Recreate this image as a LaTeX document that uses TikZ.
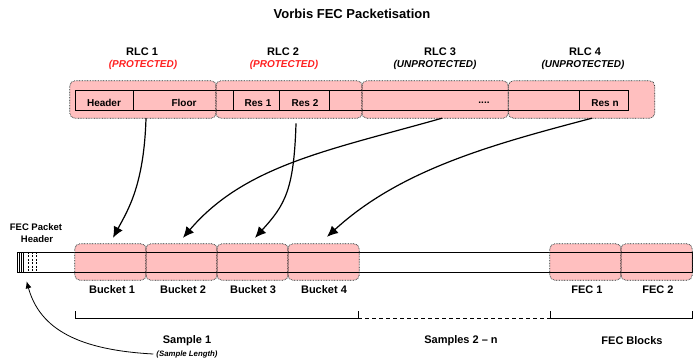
\documentclass[tikz,border=0pt]{standalone}
\usepackage{fontspec}
\setmainfont{Liberation Sans}
\usetikzlibrary{arrows.meta}
\definecolor{bucketpink}{HTML}{FFBFBF}
\definecolor{protred}{HTML}{FF1F1F}
\definecolor{edgegrey}{HTML}{2A2A2A}
\begin{document}
\begin{tikzpicture}[x=1pt,y=-1pt,
  titlefont/.style={font=\bfseries\fontsize{13}{15}\selectfont, inner sep=0pt},
  lbl/.style={font=\bfseries\fontsize{11}{13}\selectfont, inner sep=0pt},
  small/.style={font=\bfseries\fontsize{10}{12}\selectfont, inner sep=0pt},
  hdrlbl/.style={font=\bfseries\fontsize{9.5}{11}\selectfont, inner sep=0pt},
  prot/.style={font=\bfseries\itshape\fontsize{10}{12}\selectfont, inner sep=0pt, text=protred},
  unprot/.style={font=\bfseries\itshape\fontsize{10}{12}\selectfont, inner sep=0pt},
  tiny/.style={font=\bfseries\itshape\fontsize{7.8}{9}\selectfont, inner sep=0pt},
  rlcblock/.style={rectangle, rounded corners=5pt, fill=bucketpink, minimum width=146pt, minimum height=37pt, inner sep=0pt},
  bucketbox/.style={rectangle, rounded corners=5pt, fill=bucketpink, minimum width=71pt, minimum height=36pt, inner sep=0pt},
  dotborder/.style={draw=edgegrey, line width=0.7pt, dash pattern=on 0.8pt off 0.8pt, rounded corners=5pt},
  cellbox/.style={rectangle, draw=black, line width=0.7pt, minimum height=20pt, inner sep=0pt},
  flow/.style={line width=1.2pt, -{Latex[length=11pt,width=10pt]}},
  thinflow/.style={line width=0.8pt, -{Latex[length=7pt,width=6pt]}},
  brace/.style={line width=0.8pt},
]
\useasboundingbox (0,0) rectangle (695,362);

% title and RLC headings
\node[titlefont] (title) at (352,14) {Vorbis FEC Packetisation};
\node[lbl] (rlc1lbl) at (142,52) {RLC 1};
\node[lbl] (rlc2lbl) at (283,52) {RLC 2};
\node[lbl] (rlc3lbl) at (440,52) {RLC 3};
\node[lbl] (rlc4lbl) at (585,52) {RLC 4};
\node[prot] (rlc1sub) at (143,65) {(PROTECTED)};
\node[prot] (rlc2sub) at (284,65) {(PROTECTED)};
\node[unprot] (rlc3sub) at (435,65) {(UNPROTECTED)};
\node[unprot] (rlc4sub) at (583,65) {(UNPROTECTED)};

% RLC blocks (fill only; borders drawn after the strip)
\node[rlcblock] (rlc1) at (143,99.5) {};
\node[rlcblock] (rlc2) at (289,99.5) {};
\node[rlcblock] (rlc3) at (435,99.5) {};
\node[rlcblock] (rlc4) at (581.5,99.5) {};

% packet strip cells
\node[cellbox, minimum width=58pt] (hdrcell) at (104,100) {};
\node[cellbox, minimum width=100pt] (floorcell) at (183,100) {};
\node[cellbox, minimum width=46pt] (res1cell) at (256,100) {};
\node[cellbox, minimum width=50pt] (res2cell) at (304,100) {};
\node[cellbox, minimum width=250pt] (dotscell) at (454,100) {};
\node[cellbox, minimum width=49pt] (resncell) at (603.5,100) {};
\node[small] (hdrtxt) at (104,103) {Header};
\node[small] (floortxt) at (184,103) {Floor};
\node[small] (res1txt) at (258,103) {Res 1};
\node[small] (res2txt) at (305,103) {Res 2};
\node[small] (dotstxt) at (484,103) {....};
\node[small] (resntxt) at (605,103) {Res n};

\foreach \b in {rlc1,rlc2,rlc3,rlc4}
  \draw[dotborder] (\b.north west) rectangle (\b.south east);

% buckets and FEC blocks
\node[bucketbox] (b1) at (110.5,262) {};
\node[bucketbox] (b2) at (181.5,262) {};
\node[bucketbox] (b3) at (252.5,262) {};
\node[bucketbox] (b4) at (323.5,262) {};
\node[bucketbox] (f1) at (585.5,262) {};
\node[bucketbox] (f2) at (656.5,262) {};

% packet line with header marks
\node[rectangle, draw=black, line width=0.7pt, minimum width=675pt, minimum height=20pt, inner sep=0pt] (pkt) at (354.5,262) {};
\foreach \x in {19,21,23.3}
  \draw[line width=0.6pt] (\x,252) -- (\x,272);
\foreach \x in {28.3,32.3,36.7}
  \draw[line width=0.6pt, dash pattern=on 2pt off 1.4pt] (\x,252) -- (\x,272);

\foreach \b in {b1,b2,b3,b4,f1,f2}
  \draw[dotborder] (\b.north west) rectangle (\b.south east);

% labels
\node[hdrlbl] (fechdr1) at (36,227) {FEC Packet};
\node[hdrlbl] (fechdr2) at (37,239) {Header};
\node[lbl] (b1lbl) at (112,290) {Bucket 1};
\node[lbl] (b2lbl) at (183,290) {Bucket 2};
\node[lbl] (b3lbl) at (253,290) {Bucket 3};
\node[lbl] (b4lbl) at (324,290) {Bucket 4};
\node[lbl] (f1lbl) at (587,290) {FEC 1};
\node[lbl] (f2lbl) at (658,290) {FEC 2};
\node[lbl] (sample1) at (187,341) {Sample 1};
\node[tiny] (samplelen) at (187,354) {(Sample Length)};
\node[lbl] (samples) at (461,341) {Samples 2 \textendash\ n};
\node[lbl] (fecblocks) at (632,341) {FEC Blocks};

% brackets
\draw[brace] (75,311) -- (75,318) -- (358,318) -- (358,311);
\draw[brace, dash pattern=on 4pt off 3pt] (358,318) -- (550,318);
\draw[brace] (550,311) -- (550,318) -- (692,318) -- (692,311);

% residue mapping arrows
\draw[flow] ([xshift=3pt]rlc1.south) .. controls (144,185) and (128,210) .. ([xshift=2.5pt,yshift=6pt]b1.north);
\draw[flow] ([xshift=7pt]rlc3.south) .. controls (330,150) and (245,165) .. ([xshift=1.5pt,yshift=6pt]b2.north);
\draw[flow] ([xshift=-8pt,yshift=-13pt]res2cell.south) .. controls (294,190) and (285,205) .. ([xshift=2.5pt,yshift=6pt]b3.north);
\draw[flow] ([xshift=10.5pt]rlc4.south) .. controls (490,145) and (400,170) .. ([xshift=3.5pt,yshift=7pt]b4.north);

% sample length pointer
\draw[thinflow] ([xshift=-3pt]samplelen.west) .. controls (80,350) and (40,330) .. ([xshift=10pt,yshift=-9pt]pkt.south west);
\end{tikzpicture}
\end{document}
